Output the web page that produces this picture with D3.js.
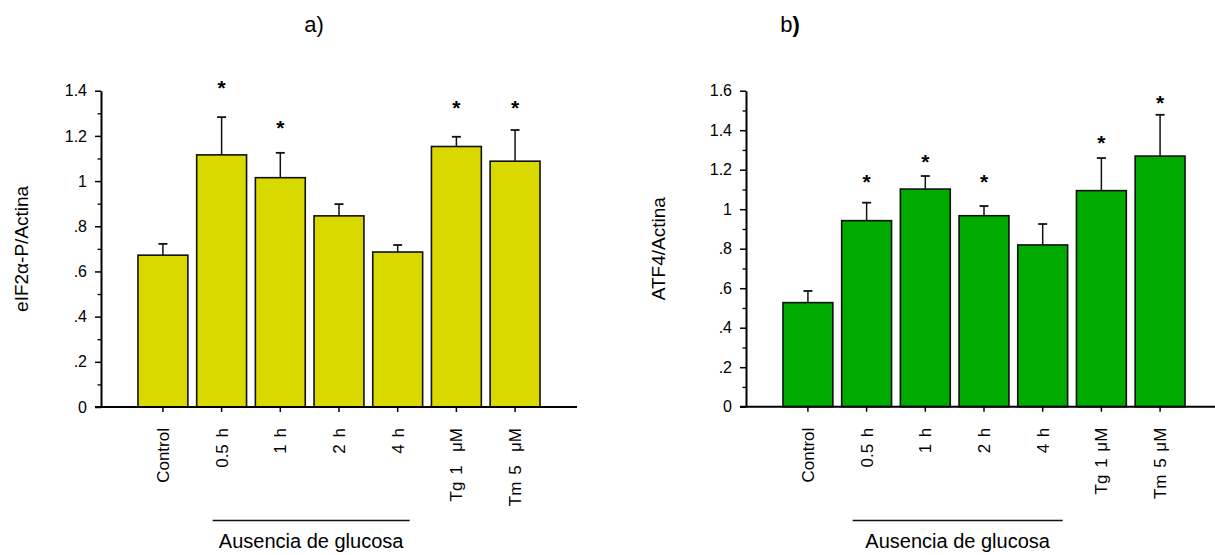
<!DOCTYPE html>
<html lang="es">
<head>
<meta charset="UTF-8">
<title>eIF2α-P y ATF4</title>
<script src="https://d3js.org/d3.v7.min.js"></script>
<style>
    body { margin: 0; background: #fff; }
    svg { display: block; font-family: Arial, "Liberation Sans", sans-serif; }
    .y-axis .tick text { font-size: 16px; fill: #000; }
    .x-axis .tick text { font-size: 17px; fill: #000; word-spacing: 2px; }
</style>
</head>
<body>
<svg id="chart" width="1215" height="555"></svg>
<script>
// categories (shared by both panels)
const categories = ["Control", "0.5 h", "1 h", "2 h", "4 h", "Tg 1 μM", "Tm 5 μM"];
const labelsA = ["Control", "0.5 h", "1 h", "2 h", "4 h", "Tg 1\u00a0\u00a0μM", "Tm 5\u00a0\u00a0μM"];
const labelsB = ["Control", "0.5 h", "1 h", "2 h", "4 h", "Tg 1 μM", "Tm 5 μM"];
const glucoseGroup = ["0.5 h", "4 h"];

// panel a) eIF2α-P/Actina
const meanA = [0.672, 1.116, 1.015, 0.846, 0.686, 1.153, 1.088];
const errA  = [0.050, 0.167, 0.110, 0.052, 0.031, 0.043, 0.138];
const starA = [null, 1.434, 1.257, null, null, 1.345, 1.345];
const ticksA = [0, 0.2, 0.4, 0.6, 0.8, 1, 1.2, 1.4];

// panel b) ATF4/Actina
const meanB = [0.527, 0.942, 1.102, 0.967, 0.819, 1.094, 1.269];
const errB  = [0.059, 0.091, 0.066, 0.049, 0.106, 0.165, 0.209];
const starB = [null, 1.161, 1.263, 1.161, null, 1.359, 1.562];
const ticksB = [0, 0.2, 0.4, 0.6, 0.8, 1, 1.2, 1.4, 1.6];

const svg = d3.select("#chart");
const fmt = v => v === 0 ? "0" : String(+v.toFixed(1)).replace(/^0\./, ".");

function drawPanel(p) {
    const g = svg.append("g");

    const x = d3.scaleBand()
        .domain(categories)
        .range([p.left, p.right])
        .paddingInner(0.15)
        .paddingOuter(0.63);

    const y = d3.scaleLinear()
        .domain([0, p.max])
        .range([p.bottom, p.top]);

    // minor ticks every 0.1
    const minor = d3.range(1, Math.round(p.max * 10), 2).map(i => i / 10);
    g.append("g")
        .attr("transform", `translate(${p.left},0)`)
        .call(d3.axisLeft(y).tickValues(minor).tickSize(3.5).tickFormat(""))
        .call(s => s.select(".domain").remove())
        .selectAll("line").attr("stroke-width", 1.3);

    // y axis
    const yAxis = g.append("g")
        .attr("class", "y-axis")
        .attr("transform", `translate(${p.left},0)`)
        .call(d3.axisLeft(y).tickValues(p.ticks).tickFormat(fmt).tickSize(6).tickSizeOuter(0).tickPadding(8));
    yAxis.select(".domain").attr("stroke-width", 2);
    yAxis.selectAll(".tick line").attr("stroke-width", 1.5);

    // bars
    g.selectAll("rect.bar")
        .data(p.mean)
        .join("rect")
        .attr("class", "bar")
        .attr("x", (d, i) => x(categories[i]))
        .attr("width", x.bandwidth())
        .attr("y", d => y(d))
        .attr("height", d => y(0) - y(d))
        .attr("fill", p.color)
        .attr("stroke", "#111")
        .attr("stroke-width", 1.6);

    // error bars
    const eb = g.selectAll("g.err")
        .data(p.mean)
        .join("g")
        .attr("class", "err")
        .attr("transform", (d, i) => `translate(${x(categories[i]) + x.bandwidth() / 2},0)`);
    eb.append("line")
        .attr("y1", d => y(d))
        .attr("y2", (d, i) => y(d + p.err[i]))
        .attr("stroke", "#111").attr("stroke-width", 1.5);
    eb.append("line")
        .attr("x1", -4.5).attr("x2", 4.5)
        .attr("y1", (d, i) => y(d + p.err[i]))
        .attr("y2", (d, i) => y(d + p.err[i]))
        .attr("stroke", "#111").attr("stroke-width", 1.8);

    // significance stars
    g.selectAll("text.star")
        .data(p.star.map((s, i) => ({ s, i })).filter(d => d.s !== null))
        .join("text")
        .attr("class", "star")
        .attr("x", d => x(categories[d.i]) + x.bandwidth() / 2)
        .attr("y", d => y(d.s) + 12)
        .attr("text-anchor", "middle")
        .attr("font-size", 21)
        .attr("font-weight", "bold")
        .text("*");

    // x axis
    const xAxis = g.append("g")
        .attr("class", "x-axis")
        .attr("transform", `translate(0,${p.bottom})`)
        .call(d3.axisBottom(x).tickSize(5).tickSizeOuter(0).tickFormat((d, i) => p.labels[i]));
    xAxis.select(".domain")
        .attr("d", `M${p.left - 6},0H${p.right}`)
        .attr("stroke-width", 2);
    xAxis.selectAll(".tick line").attr("stroke-width", 1.5);
    xAxis.selectAll(".tick text")
        .attr("transform", "rotate(-90)")
        .attr("text-anchor", "end")
        .attr("x", -21)
        .attr("y", 0)
        .attr("dy", "0.35em")
        .style("white-space", "pre");

    // y label
    g.append("text")
        .attr("transform", `translate(${p.ylabelX},${(p.top + p.bottom) / 2}) rotate(-90)`)
        .attr("text-anchor", "middle")
        .attr("font-size", 19)
        .text(p.ylabel);

    // glucose group
    const gx0 = x(glucoseGroup[0]) + x.bandwidth() / 2 + p.groupPad[0];
    const gx1 = x(glucoseGroup[1]) + x.bandwidth() / 2 + p.groupPad[1];
    g.append("line")
        .attr("x1", gx0).attr("x2", gx1)
        .attr("y1", 520.5).attr("y2", 520.5)
        .attr("stroke", "#111").attr("stroke-width", 1.3);
    g.append("text")
        .attr("x", (gx0 + gx1) / 2)
        .attr("y", 548)
        .attr("text-anchor", "middle")
        .attr("font-size", 20)
        .text("Ausencia de glucosa");

    // title
    const title = g.append("text")
        .attr("x", p.titleX)
        .attr("y", 32)
        .attr("text-anchor", "middle")
        .attr("font-size", 22);
    title.append("tspan").text(p.title);
    title.append("tspan").attr("font-weight", p.parenBold ? "bold" : "normal").text(")");
}

drawPanel({
    title: "a", parenBold: false, titleX: 314,
    left: 101, right: 577, top: 90.7, bottom: 407, max: 1.4,
    ticks: ticksA, mean: meanA, err: errA, star: starA, labels: labelsA,
    color: "#d9d900", ylabel: "eIF2α-P/Actina", ylabelX: 28, groupPad: [-9, 12]
});

drawPanel({
    title: "b", parenBold: true, titleX: 790,
    left: 746, right: 1222, top: 90.7, bottom: 406.7, max: 1.6,
    ticks: ticksB, mean: meanB, err: errB, star: starB, labels: labelsB,
    color: "#00ab00", ylabel: "ATF4/Actina", ylabelX: 665, groupPad: [-14, 20]
});
</script>
</body>
</html>
